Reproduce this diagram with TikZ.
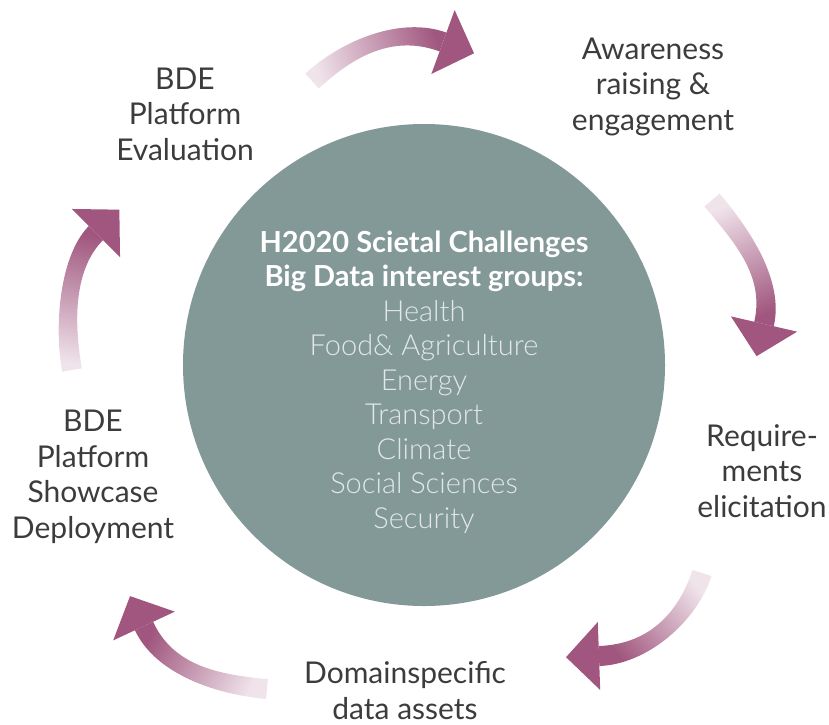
\documentclass[tikz,border=0pt]{standalone}
\usepackage{fontspec}
\setmainfont{Lato}
\newfontfamily\lightfont{Lato Light}
\usetikzlibrary{calc}
\definecolor{circ}{RGB}{131,153,151}
\definecolor{arrlight}{RGB}{240,228,235}
\definecolor{arrdark}{RGB}{160,86,126}
\definecolor{txt}{RGB}{60,60,60}
\definecolor{thin}{RGB}{226,232,231}
\def\bandhw{10}
\def\headhw{34}
\def\headlen{33}
% #1 name, #2 tail point, #3 tail angle, #4 tail control length,
% #5 head base point, #6 head angle, #7 head control length, #8 direction tail->head (canvas)
\newcommand{\bandarrow}[8]{%
  \coordinate (#1t) at #2;
  \coordinate (#1b) at #5;
  \shade[left color=arrlight, right color=arrdark, shading angle={#8+90}]
    ($(#1t)+(#3-90:\bandhw)$) .. controls +(#3:#4) and +(#6+180:#7) .. ($(#1b)+(#6-90:\bandhw)$)
    -- ($(#1b)+(#6+90:\bandhw)$) .. controls +(#6+180:#7) and +(#3:#4) .. ($(#1t)+(#3+90:\bandhw)$)
    -- cycle;
  \fill[arrdark] ($(#1b)+(#6-90:\headhw)$) -- ($(#1b)+(#6:\headlen)$) -- ($(#1b)+(#6+90:\headhw)$) -- cycle;
}
\begin{document}
\begin{tikzpicture}[x=1pt,y=-1pt,
  lbl/.style={align=center, text=txt, font=\fontsize{30}{35.5}\selectfont, inner sep=0pt, anchor=base},
  hubstyle/.style={circle, fill=circ, minimum size=482pt, inner sep=0pt},
  grouptext/.style={align=center, inner sep=0pt, anchor=base, font=\fontsize{29}{34.5}\selectfont}]
\useasboundingbox (0,0) rectangle (829,724);
\node[hubstyle] (hub) at (424,365) {};
\node[grouptext] (groups) at (424,528) {%
  {\color{white}\bfseries H2020 Scietal Challenges}\\
  {\color{white}\bfseries Big Data interest groups:}\\
  {\color{thin}\lightfont Health}\\
  {\color{thin}\lightfont Food\& Agriculture}\\
  {\color{thin}\lightfont Energy}\\
  {\color{thin}\lightfont Transport}\\
  {\color{thin}\lightfont Climate}\\
  {\color{thin}\lightfont Social Sciences}\\
  {\color{thin}\lightfont Security}};
\node[lbl] (aware) at (653,130) {Awareness\\raising \&\\engagement};
\node[lbl] (eval) at (185,160) {BDE\\Platform\\Evaluation};
\node[lbl] (req) at (762,517) {Require-\\ments\\elicitation};
\node[lbl] (deploy) at (93,538) {BDE\\Platform\\Showcase\\Deployment};
\node[lbl] (domain) at (405,719) {Domainspecific\\data assets};
\bandarrow{a1}{(312,81)}{-42.5}{49}{(443,42)}{20}{49}{16.6}
\bandarrow{a2}{(712,200)}{50}{47}{(764,324)}{103}{47}{-67}
\bandarrow{a3}{(702,573)}{108}{48}{(599,656)}{178}{48}{219}
\bandarrow{a4}{(267,689)}{185}{49}{(144,626)}{245}{49}{153}
\bandarrow{a5}{(72,370)}{-100}{50}{(96,233)}{-45}{40}{80}
\end{tikzpicture}
\end{document}
